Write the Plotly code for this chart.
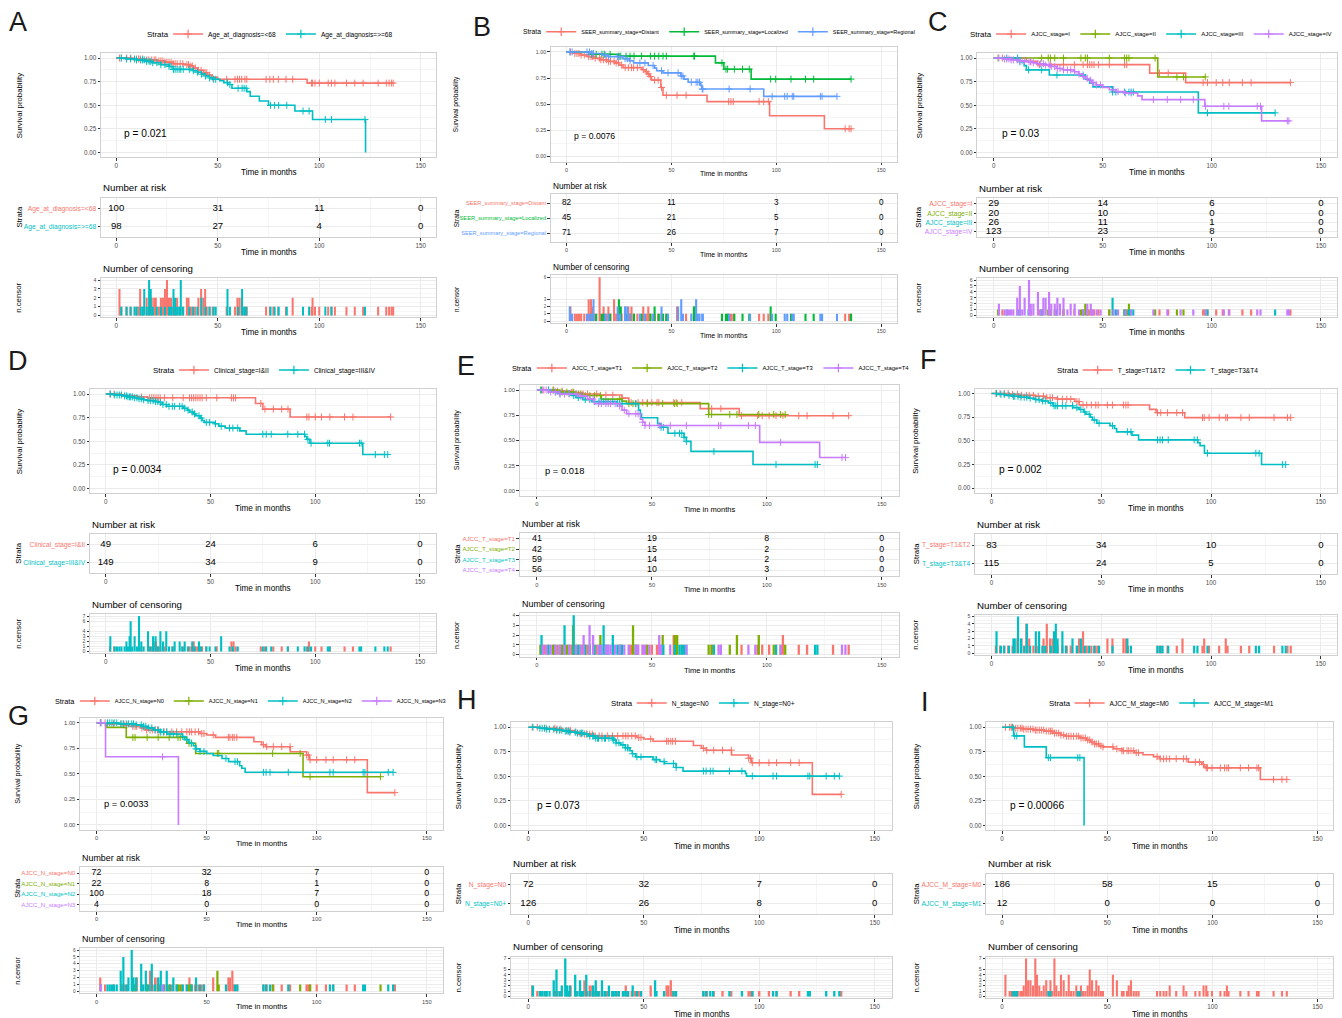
import plotly.graph_objects as go
from collections import Counter

FIG_W, FIG_H = 1342, 1018
FONT = "Liberation Sans, Arial, sans-serif"
BORDER = "#D0D0D0"
GRID = "#EBEBEB"
GRID_MINOR = "#F5F5F5"

RISK_TIMES = [0, 50, 100, 150]
X_TICKS = [0, 50, 100, 150]
X_MINOR = [25, 75, 125]
Y_TICKS = [0, 0.25, 0.5, 0.75, 1.0]
Y_TICKTEXT = ["0.00", "0.25", "0.50", "0.75", "1.00"]
Y_MINOR = [0.125, 0.375, 0.625, 0.875]

C2 = ["#F8766D", "#00BFC4"]
C3 = ["#F8766D", "#00BA38", "#619CFF"]
C4 = ["#F8766D", "#7CAE00", "#00BFC4", "#C77CFF"]

# ---------------- Panel A ----------------
A_labels = ["Age_at_diagnosis=<68", "Age_at_diagnosis=>=68"]
A_pval = "p = 0.021"
A1_time = [8, 15, 20, 24, 28, 33, 36, 38, 40, 43, 45, 47, 50, 94]
A1_surv = [0.99, 0.98, 0.97, 0.955, 0.94, 0.93, 0.915, 0.895, 0.87, 0.845, 0.82, 0.795, 0.775, 0.735]
A1_cens = [1.6, 1.6, 1.6, 2.5, 5.2, 7.2, 10, 11, 11.8, 11.8, 11.8, 13, 15, 15, 16, 17.5, 17.5, 18.7, 18.7,
           19.5, 19.5, 21, 22, 22, 23, 23, 24, 24, 24, 25, 25, 25, 25, 26, 26, 27, 27, 28, 29, 30, 30, 31.5,
           32.8, 34.8, 34.8, 35.6, 35.6, 36.7, 37.5, 38.9, 40.5, 40.5, 41.8, 41.8, 41.8, 43, 43, 43.8, 43.8,
           43.8, 44.6, 45.9, 47.5, 54.4, 58.5, 59.7, 59.7, 60.7, 60.7, 61.8, 61.8, 63.4, 64.3, 73.8, 75.7,
           77.4, 79.8, 83.6, 86.9, 86.9, 96.2, 96.7, 96.7, 97.9, 100, 104.4, 106, 107.7, 113.4, 117.5, 121.6,
           129, 133, 134.4, 135.6, 136.4]
A1_risk = [100, 31, 11, 0]
A2_time = [5, 10, 14, 18, 22, 26, 28, 38, 40, 42, 44, 46, 48, 51, 53, 55, 57, 64.3, 66, 70.5, 75, 88, 96.7, 122.8]
A2_surv = [0.99, 0.98, 0.965, 0.95, 0.93, 0.91, 0.88, 0.865, 0.85, 0.83, 0.81, 0.79, 0.775, 0.76, 0.74, 0.72,
           0.68, 0.645, 0.595, 0.545, 0.50, 0.44, 0.35, 0.0]
A2_cens = [2.5, 5, 7, 9, 10, 12, 13, 13.8, 13.8, 13.8, 15, 16.2, 16.2, 16.2, 16.2, 17, 17, 17, 18, 20, 22, 24,
           26, 27, 28.2, 28.2, 28.2, 29, 29, 30, 31, 31.8, 31.8, 31.8, 31.8, 33, 36, 38, 40, 42, 42, 44, 46, 48,
           49, 54.8, 54.8, 54.8, 56, 60, 62, 62, 62, 63, 64, 76, 78, 80, 84, 92, 95, 103, 106, 122.5]
A2_risk = [98, 27, 4, 0]

# ---------------- Panel B ----------------
B_labels = ["SEER_summary_stage=Distant", "SEER_summary_stage=Localized", "SEER_summary_stage=Regional"]
B_pval = "p = 0.0076"
B1_time = [4, 7, 10, 13, 16, 20, 23, 25, 27, 36, 37.5, 38.5, 39.5, 40.5, 45, 46, 67, 96.8, 122.9]
B1_surv = [0.985, 0.97, 0.955, 0.94, 0.925, 0.91, 0.895, 0.875, 0.85, 0.83, 0.81, 0.79, 0.765, 0.73, 0.66,
           0.585, 0.525, 0.39, 0.265]
B1_cens = [1.9, 1.9, 4, 5, 6, 7, 8.5, 10.6, 10.6, 10.6, 11.7, 11.7, 11.7, 12.5, 12.5, 13.7, 15.8, 15.8, 15.8,
           15.8, 15.8, 15.8, 16.4, 17.7, 17.7, 19, 20, 20, 21, 22.7, 22.7, 22.7, 23.7, 24.8, 26.3, 28, 28, 29.5,
           29.5, 31, 31, 32, 33.8, 36.6, 36.6, 38.2, 39, 39, 40, 42, 43.7, 45.3, 47.6, 52.7, 52.7, 57, 77.3,
           78.4, 79.5, 91.8, 94, 96.2, 132.8, 134.7, 135.6]
B1_risk = [82, 11, 3, 0]
B2_time = [11, 25, 71, 75, 88]
B2_surv = [0.978, 0.96, 0.895, 0.835, 0.74]
B2_cens = [12, 14.2, 16.9, 18, 20.8, 25, 25, 25, 25.9, 25.9, 28.4, 30.3, 32.2, 35.8, 40, 42, 42, 44, 46, 47.6,
           60.7, 60.7, 61, 61, 74.1, 76, 76.8, 80, 83.9, 87.1, 97.3, 97.3, 99.7, 107, 113.9, 117.8, 135.6]
B2_risk = [45, 21, 5, 0]
B3_time = [12, 17, 20, 27, 30, 32, 39, 42, 43, 46, 54.5, 56, 58, 64, 64.5, 94]
B3_surv = [0.985, 0.97, 0.955, 0.935, 0.915, 0.895, 0.87, 0.845, 0.82, 0.80, 0.77, 0.74, 0.71, 0.68, 0.645, 0.575]
B3_cens = [1.6, 1.6, 2.7, 9.8, 11, 12.1, 12.9, 12.9, 12.9, 18.5, 20, 24.4, 24.4, 25.5, 27.9, 27.9, 29, 29,
           30.3, 35, 37.4, 41.3, 45.3, 45.3, 48.4, 53.2, 53.2, 54.7, 54.7, 54.7, 55.5, 59.5, 61.8, 61.8, 61.8,
           62.6, 63.4, 64.7, 65, 77.5, 87.5, 98, 104, 105.2, 107.6, 108.3, 121, 121.8, 128.9]
B3_risk = [71, 26, 7, 0]

# ---------------- Panel C ----------------
C_labels = ["AJCC_stage=I", "AJCC_stage=II", "AJCC_stage=III", "AJCC_stage=IV"]
C_pval = "p = 0.03"
C1_time = [15, 20, 71.5, 88]
C1_surv = [0.965, 0.93, 0.84, 0.74]
C1_cens = [4, 17, 21, 26, 32, 37, 41, 43, 44, 45, 46, 48, 53, 60, 61, 76, 80, 96, 98, 102, 105, 108, 114, 118, 136]
C1_risk = [29, 14, 6, 0]
C2_time = [75.2]
C2_surv = [0.80]
C2_cens = [2, 22, 25, 26, 28, 32, 40, 42, 42, 43, 53, 60, 61, 62, 62, 74, 84, 87, 97]
C2_risk = [20, 10, 0, 0]
C3_time = [12, 14, 15, 25.5, 42, 44, 45.5, 54.4, 93.8]
C3_surv = [0.96, 0.92, 0.875, 0.82, 0.775, 0.735, 0.695, 0.64, 0.42]
C3_cens = [6, 11, 12, 16, 22, 29, 41, 54.5, 54.5, 54.5, 56, 60, 62, 63, 64, 98, 129]
C3_risk = [26, 11, 1, 0]
C4_time = [4, 8, 12, 15, 18, 20, 23, 26, 29, 32, 37, 39, 41, 42, 43, 45, 47, 50, 53, 56, 60, 66, 68, 96.8, 122.8]
C4_surv = [0.99, 0.98, 0.97, 0.96, 0.95, 0.94, 0.925, 0.91, 0.89, 0.875, 0.855, 0.83, 0.805, 0.785, 0.765,
           0.74, 0.715, 0.69, 0.665, 0.645, 0.63, 0.60, 0.56, 0.49, 0.335]
C4_cens = [2.4, 2.4, 5, 6, 7, 8, 9, 10.8, 10.8, 10.8, 12, 12, 12, 12, 12, 13.1, 14.2, 14.2, 14.2, 16.2, 16.2,
           16.2, 16.2, 16.2, 16.2, 17, 17, 18.2, 18.2, 20.3, 20.3, 20.3, 20.3, 21.5, 22.8, 22.8, 22.8, 23.8,
           23.8, 23.8, 25.4, 25.4, 25.4, 25.4, 26.4, 26.4, 28, 28, 29.2, 29.2, 29.2, 30.4, 30.4, 32, 32, 32,
           33.8, 35.3, 35.3, 37.1, 37.1, 39.1, 41.1, 42.9, 42.9, 44.5, 44.5, 45.5, 47.2, 49, 55, 57, 60.5, 63.1,
           73.2, 79.6, 85.7, 91.5, 97.1, 105.5, 107.8, 120.8, 122.3, 134.6, 135.3]
C4_risk = [123, 23, 8, 0]

# ---------------- Panel D ----------------
D_labels = ["Clinical_stage=I&II", "Clinical_stage=III&IV"]
D_pval = "p = 0.0034"
D1_time = [7, 10, 15, 20, 71.5, 75, 88]
D1_surv = [0.99, 0.98, 0.97, 0.96, 0.90, 0.84, 0.757]
D1_cens = [2, 4, 17, 21, 22, 23, 23, 24, 24, 25, 26, 28, 32, 37, 40, 41, 42, 42, 43, 44, 45, 46, 48, 53, 60,
           60, 61, 61, 62, 74, 76, 80, 84, 87, 96, 97, 97, 100, 103, 107, 114, 118, 136]
D1_risk = [49, 24, 6, 0]
D2_time = [4, 8, 10, 13, 15, 18, 20, 23, 25, 27, 29, 37, 39, 40, 42, 43, 45, 46, 47, 52, 54, 57, 64, 67, 95,
           96, 97.5, 122.7]
D2_surv = [0.99, 0.98, 0.97, 0.96, 0.95, 0.94, 0.93, 0.92, 0.91, 0.89, 0.87, 0.85, 0.83, 0.81, 0.79, 0.77,
           0.745, 0.72, 0.70, 0.685, 0.66, 0.64, 0.61, 0.575, 0.55, 0.52, 0.48, 0.36]
D2_cens = [2.2, 2.2, 2.2, 4.3, 5.4, 6.5, 7.5, 9, 9.9, 9.9, 10.6, 11.4, 11.4, 11.4, 11.9, 11.9, 11.9, 11.9,
           11.9, 11.9, 12.7, 13.8, 13.8, 13.8, 14.9, 15.9, 15.9, 15.9, 15.9, 15.9, 15.9, 15.9, 17, 17, 18.1,
           20.2, 20.2, 20.2, 20.2, 21.3, 22.6, 22.6, 22.6, 23.8, 23.8, 23.8, 24.9, 26.1, 26.1, 26.1, 26.1,
           27.3, 27.3, 28.9, 28.9, 28.9, 28.9, 30.2, 31.8, 32.9, 32.9, 35.3, 35.3, 36.5, 37.7, 37.7, 39.3,
           41.3, 41.3, 42.4, 44.5, 44.5, 45.6, 48, 49.6, 52.4, 55.1, 55.1, 55.1, 59.1, 60.7, 63, 75, 76.6, 79,
           86.9, 91.7, 94.9, 96.5, 98, 106, 106.8, 121.1, 121.9, 128.7, 133, 134.6]
D2_risk = [149, 34, 9, 0]

# ---------------- Panel E ----------------
E_labels = ["AJCC_T_stage=T1", "AJCC_T_stage=T2", "AJCC_T_stage=T3", "AJCC_T_stage=T4"]
E_pval = "p = 0.018"
E1_time = [8, 15, 20, 27, 37, 40, 71, 88]
E1_surv = [0.99, 0.975, 0.96, 0.95, 0.92, 0.875, 0.815, 0.745]
E1_cens = [3, 5, 7.3, 9, 10.9, 15, 16, 20, 22, 26, 30, 33, 37, 41, 44, 46, 48, 50, 52.2, 53, 59.5, 59.5,
           60.6, 60.6, 63, 76, 80, 89, 96, 98, 101, 104, 107, 107, 113.9, 117.5, 128.8, 135.6]
E1_risk = [41, 19, 8, 0]
E2_time = [10, 17, 20, 28, 37, 39, 74.7]
E2_surv = [0.98, 0.96, 0.945, 0.91, 0.89, 0.865, 0.757]
E2_cens = [1.5, 7, 11, 13, 15.7, 15.7, 15.7, 17, 18, 19, 21, 23, 25, 27.6, 27.6, 36, 40, 41.8, 41.8, 41.8, 43,
           48, 54.7, 54.7, 59.9, 59.9, 61, 61, 74.7, 76, 83.9, 87, 87, 96.5, 96.5, 103, 106, 108]
E2_risk = [42, 15, 2, 0]
E3_time = [6, 10, 15, 17, 20, 24, 35, 44.2, 45, 45.5, 52.5, 54, 57, 64, 65, 67, 94]
E3_surv = [0.98, 0.965, 0.945, 0.925, 0.905, 0.885, 0.865, 0.80, 0.765, 0.725, 0.665, 0.63, 0.57, 0.53, 0.49,
           0.39, 0.26]
E3_cens = [2, 2, 5, 8, 10, 12, 12, 12, 14, 16, 16, 16, 16, 18, 21, 23, 25, 27, 28, 29, 29, 29, 30, 31, 33, 33,
           35, 36, 37, 43, 54, 55, 60, 62, 63, 64, 65, 77, 104, 121, 122]
E3_risk = [59, 14, 2, 0]
E4_time = [5, 10, 18, 22, 25, 36, 37, 39, 45, 46, 47, 96.9, 123]
E4_surv = [0.98, 0.96, 0.94, 0.91, 0.865, 0.84, 0.80, 0.765, 0.71, 0.68, 0.648, 0.48, 0.33]
E4_cens = [2.5, 4, 6, 8, 10, 12, 14, 17, 19, 20.3, 20.3, 22.9, 22.9, 22.9, 24.4, 24.4, 26.8, 28, 30, 31, 32,
           34, 36, 38, 40, 43, 44, 46, 47, 49, 53.2, 53.2, 54, 58, 65, 79, 80, 92, 95, 106, 132.7, 134.2]
E4_risk = [56, 10, 3, 0]

# ---------------- Panel F ----------------
F_labels = ["T_stage=T1&T2", "T_stage=T3&T4"]
F_pval = "p = 0.002"
F1_time = [8, 13, 20, 25, 30, 38, 40, 72, 75, 88]
F1_surv = [0.99, 0.98, 0.97, 0.955, 0.94, 0.915, 0.878, 0.832, 0.797, 0.745]
F1_cens = [2, 3.9, 5.8, 7.6, 9.6, 11.8, 11.8, 13.7, 13.7, 15.9, 15.9, 15.9, 15.9, 17.2, 17.2, 19.1, 21.3,
           23.7, 23.7, 25.2, 25.2, 25.2, 25.2, 26.7, 26.7, 27.8, 27.8, 30.1, 32.3, 34.3, 36.1, 38.9, 39.9, 39.9,
           41.7, 41.7, 41.7, 43.4, 45.5, 47.5, 48.6, 52.8, 52.8, 55.1, 55.1, 60.1, 60.1, 61.2, 61.2, 62.2, 75.6,
           77.1, 80.2, 84.4, 87, 87, 96.1, 96.9, 96.9, 99.1, 103.7, 106.7, 106.7, 107.5, 113.6, 117.4, 128.7,
           134.8, 136.3]
F1_risk = [83, 34, 10, 0]
F2_time = [3, 6, 10, 13, 17, 20, 23, 26, 28, 37, 40, 42, 43, 45, 46, 48, 54, 56, 57, 64, 67, 94, 95, 97, 123]
F2_surv = [0.99, 0.98, 0.97, 0.96, 0.95, 0.935, 0.92, 0.90, 0.87, 0.85, 0.83, 0.805, 0.78, 0.75, 0.72, 0.685,
           0.66, 0.63, 0.595, 0.56, 0.51, 0.48, 0.45, 0.37, 0.25]
F2_cens = [2.3, 2.3, 2.3, 4.3, 5.8, 8, 10, 10, 10.6, 10.6, 12.1, 12.1, 12.1, 12.1, 12.1, 13.4, 13.4, 14.9,
           16.1, 16.1, 16.1, 16.1, 17.6, 20.2, 20.2, 20.2, 21.7, 21.7, 21.7, 23.2, 24.5, 27, 28.5, 28.5, 28.5,
           29.3, 29.3, 29.3, 29.3, 30.1, 30.1, 32.3, 32.3, 32.3, 33.9, 36.9, 36.9, 38.9, 40.7, 40.7, 42.5, 44.5,
           46.8, 49, 55.1, 61.9, 61.9, 63.5, 75.6, 76.8, 77.9, 80.5, 92.3, 93.8, 98.4, 120.4, 121.9, 132.5, 134]
F2_risk = [115, 24, 5, 0]

# ---------------- Panel G ----------------
G_labels = ["AJCC_N_stage=N0", "AJCC_N_stage=N1", "AJCC_N_stage=N2", "AJCC_N_stage=N3"]
G_pval = "p = 0.0033"
G1_time = [5, 12, 15, 20, 22, 28, 47, 50, 54, 71.5, 75, 77, 88, 95.4, 96.6, 123]
G1_surv = [0.99, 0.98, 0.965, 0.95, 0.93, 0.912, 0.895, 0.88, 0.857, 0.814, 0.785, 0.766, 0.717, 0.684,
           0.638, 0.316]
G1_cens = [1.7, 1.7, 3.9, 7.7, 11.5, 12.5, 13.8, 16.5, 16.5, 17.5, 18.3, 18.3, 20.6, 22.8, 24.3, 24.3, 24.3,
           25.5, 26.6, 26.6, 27.7, 27.7, 28.9, 30.7, 31.9, 34.2, 36.4, 38.7, 41, 42.2, 42.2, 43.2, 44.8, 46.3,
           47.8, 48.8, 53, 53, 59.9, 59.9, 60.6, 60.6, 61.7, 61.7, 61.7, 62.5, 63.7, 75.8, 77.3, 80.3, 84.1,
           87.9, 95.4, 96.2, 97, 100, 104.2, 107.5, 113.6, 117.3, 135.5]
G1_risk = [72, 32, 7, 0]
G2_time = [4.7, 13.5, 41, 45, 93.8]
G2_surv = [0.955, 0.857, 0.80, 0.70, 0.472]
G2_cens = [16.5, 17.5, 23, 28, 33, 37, 38, 42, 43, 54.9, 54.9, 54.9, 55.5, 80, 92.5, 97, 129]
G2_risk = [22, 8, 1, 0]
G3_time = [10, 18, 21, 23, 26, 29, 32, 39, 40, 42, 44, 45, 47, 50, 53, 57, 60, 65, 66, 67.5]
G3_surv = [0.99, 0.98, 0.965, 0.95, 0.93, 0.91, 0.89, 0.865, 0.835, 0.80, 0.775, 0.745, 0.72, 0.70, 0.68,
           0.65, 0.62, 0.58, 0.555, 0.515]
G3_cens = [2, 5, 6, 7, 8, 9.2, 11, 11, 11, 12.2, 12.2, 12.2, 12.2, 12.2, 13.5, 14.5, 14.5, 16, 16, 16, 16, 16,
           16, 16.8, 16.8, 18, 18, 20.3, 20.3, 20.3, 20.3, 21.3, 22.4, 22.4, 22.4, 23.6, 25.1, 25.1, 25.1, 25.1,
           26.6, 28.1, 28.1, 29.2, 29.2, 29.2, 30.4, 31.9, 31.9, 31.9, 33.4, 34.9, 34.9, 36.4, 39.2, 41, 43.2,
           45.2, 45.2, 47, 48.8, 58.8, 62.9, 64, 75.8, 77, 78.8, 87.1, 106, 107.5, 121.1, 121.9, 132.5, 134.7]
G3_risk = [100, 18, 7, 0]
G4_time = [4.1, 37.2]
G4_surv = [0.667, 0.0]
G4_cens = [2, 30]
G4_risk = [4, 0, 0, 0]

# ---------------- Panel H ----------------
H_labels = ["N_stage=N0", "N_stage=N0+"]
H_pval = "p = 0.073"
H1_time = G1_time
H1_surv = G1_surv
H1_cens = G1_cens
H1_risk = [72, 32, 7, 0]
H2_time = [5, 8, 12, 15, 18, 21, 24, 26, 29, 37, 38, 40, 42, 44, 45, 46.5, 54, 57, 59, 64, 67, 94, 94.5]
H2_surv = [0.99, 0.98, 0.97, 0.96, 0.95, 0.94, 0.93, 0.91, 0.888, 0.87, 0.84, 0.82, 0.79, 0.76, 0.73, 0.698,
           0.67, 0.65, 0.63, 0.59, 0.553, 0.53, 0.502]
H2_cens = [2, 2, 5, 6, 7, 8, 9.2, 11, 11, 11, 12.2, 12.2, 12.2, 12.2, 12.2, 13.5, 14.5, 14.5, 16, 16, 16, 16,
           16, 16, 16, 16.8, 16.8, 17.5, 18, 18, 20.3, 20.3, 20.3, 20.3, 21.3, 22.4, 22.4, 22.4, 23, 23.6, 25.1,
           25.1, 25.1, 25.1, 26.6, 28, 28.1, 28.1, 29.2, 29.2, 29.2, 30, 30.4, 31.9, 31.9, 31.9, 33, 33.4, 34.9,
           34.9, 36.4, 37, 38, 39.2, 41, 42, 43, 43.2, 45.2, 45.2, 47, 48.8, 54.9, 54.9, 54.9, 55.5, 58.8, 62.9,
           64, 75.8, 77, 78.8, 80, 87.1, 92.5, 97, 106, 107.5, 121.1, 121.9, 129, 132.5, 134.7]
H2_risk = [126, 26, 8, 0]

# ---------------- Panel I ----------------
I_labels = ["AJCC_M_stage=M0", "AJCC_M_stage=M1"]
I_pval = "p = 0.00066"
I1_time = [5, 10, 15, 20, 24, 28, 30, 37, 40, 42, 44, 46, 48, 53, 57, 63, 67, 72, 75, 88.5, 95, 96, 97, 122.8]
I1_surv = [0.99, 0.98, 0.97, 0.96, 0.94, 0.92, 0.908, 0.89, 0.87, 0.85, 0.83, 0.81, 0.80, 0.78, 0.76, 0.74,
           0.72, 0.70, 0.678, 0.644, 0.62, 0.60, 0.586, 0.468]
I1_cens = [1.6, 1.6, 1.6, 1.6, 3.6, 4.4, 5.5, 6.5, 7.5, 8.7, 9.5, 10.3, 10.3, 11.4, 11.4, 11.4, 11.4, 11.4,
           11.4, 11.4, 12.4, 12.4, 12.4, 13.5, 13.5, 13.5, 14.7, 14.7, 15.8, 15.8, 15.8, 15.8, 15.8, 15.8, 15.8,
           16.6, 16.6, 16.6, 16.6, 17.7, 17.7, 18.7, 19.8, 19.8, 21, 21, 21, 22.2, 23, 23, 23, 23.8, 24.9, 24.9,
           24.9, 24.9, 24.9, 24.9, 24.9, 25.8, 25.8, 26.9, 28, 28, 28, 28, 29.3, 29.3, 29.3, 30.6, 31.7, 31.7,
           31.7, 31.7, 32.8, 34, 35.3, 35.3, 36.4, 37.5, 37.5, 38.5, 39.6, 40.7, 40.7, 41.7, 41.7, 41.7, 41.7,
           41.7, 42.8, 42.8, 42.8, 44, 44.8, 44.8, 44.8, 45.9, 45.9, 47, 48, 52.7, 52.7, 52.7, 52.7, 54.6, 54.6,
           54.6, 57, 57.8, 59.4, 60.2, 60.2, 61.3, 61.3, 61.3, 62.6, 63.8, 64.9, 73.7, 75.2, 76.8, 78.1, 79.7,
           79.7, 82.8, 86.3, 86.3, 87.6, 91.9, 93.9, 95.8, 95.8, 97.1, 97.1, 97.7, 99.8, 103.8, 105.8, 106.9,
           106.9, 107.7, 113.3, 117.2, 121.2, 122, 129.1, 133.1, 135.4]
I1_risk = [186, 58, 15, 0]
I2_time = [5.5, 10.6, 21, 39]
I2_surv = [0.912, 0.80, 0.69, 0.0]
I2_cens = [5, 6, 7, 22, 23, 36, 37]
I2_risk = [12, 0, 0, 0]

# ---------------- layout geometry (pixels) ----------------
GEOM = {
    "A": dict(l=101, r=436, km=(53.3, 157.3), rk=(197.7, 237.3), cn=(278.3, 317.3), yt=19, leg=34, let=(18, 22), sc=1.0, toff=15, hoff=9.7, lfs=6.6, ldx=0),
    "B": dict(l=550.7, r=897, km=(46.7, 161.7), rk=(194.3, 242.3), cn=(275, 323.3), yt=456, leg=31.7, let=(482, 27), sc=0.85, toff=12, hoff=7.6, lfs=5.5, ldx=-6),
    "C": dict(l=977.3, r=1337.3, km=(53.3, 157.3), rk=(198.3, 237.3), cn=(278.3, 317.3), yt=919, leg=34, let=(938, 22), sc=1.0, toff=15, hoff=9.7, lfs=6.0, ldx=-8),
    "D": dict(l=90, r=435.7, km=(389.3, 493.3), rk=(534, 573.3), cn=(614.3, 653.3), yt=19, leg=370, let=(18, 361), sc=1.0, toff=15, hoff=9.7, lfs=6.6, ldx=0),
    "E": dict(l=519.7, r=899, km=(385, 495.7), rk=(532.7, 576.3), cn=(613.3, 656.7), yt=457, leg=368, let=(466, 366), sc=0.92, toff=13.3, hoff=9, lfs=5.9, ldx=0),
    "F": dict(l=975, r=1337.3, km=(388.7, 493), rk=(534.3, 574), cn=(614.7, 655), yt=916, leg=370, let=(928, 360), sc=1.0, toff=15, hoff=9.7, lfs=6.6, ldx=0),
    "G": dict(l=80, r=443.3, km=(717.7, 830), rk=(866.7, 911), cn=(948, 993.3), yt=18, leg=701, let=(18, 716), sc=0.92, toff=13, hoff=8.7, lfs=5.6, ldx=-12),
    "H": dict(l=511, r=892, km=(722.3, 830.3), rk=(874, 914.3), cn=(956.7, 998.3), yt=458, leg=703, let=(467, 700), sc=1.0, toff=15.7, hoff=10.7, lfs=6.6, ldx=0),
    "I": dict(l=986.3, r=1333.3, km=(722.3, 830.3), rk=(874, 914.3), cn=(956.7, 998.3), yt=916, leg=703, let=(925, 702), sc=1.0, toff=15.7, hoff=10.7, lfs=6.6, ldx=0),
}

PANELS = [
    ("A", A_labels, C2, A_pval, [(A1_time, A1_surv, A1_cens, A1_risk), (A2_time, A2_surv, A2_cens, A2_risk)]),
    ("B", B_labels, C3, B_pval, [(B1_time, B1_surv, B1_cens, B1_risk), (B2_time, B2_surv, B2_cens, B2_risk),
                                 (B3_time, B3_surv, B3_cens, B3_risk)]),
    ("C", C_labels, C4, C_pval, [(C1_time, C1_surv, C1_cens, C1_risk), (C2_time, C2_surv, C2_cens, C2_risk),
                                 (C3_time, C3_surv, C3_cens, C3_risk), (C4_time, C4_surv, C4_cens, C4_risk)]),
    ("D", D_labels, C2, D_pval, [(D1_time, D1_surv, D1_cens, D1_risk), (D2_time, D2_surv, D2_cens, D2_risk)]),
    ("E", E_labels, C4, E_pval, [(E1_time, E1_surv, E1_cens, E1_risk), (E2_time, E2_surv, E2_cens, E2_risk),
                                 (E3_time, E3_surv, E3_cens, E3_risk), (E4_time, E4_surv, E4_cens, E4_risk)]),
    ("F", F_labels, C2, F_pval, [(F1_time, F1_surv, F1_cens, F1_risk), (F2_time, F2_surv, F2_cens, F2_risk)]),
    ("G", G_labels, C4, G_pval, [(G1_time, G1_surv, G1_cens, G1_risk), (G2_time, G2_surv, G2_cens, G2_risk),
                                 (G3_time, G3_surv, G3_cens, G3_risk), (G4_time, G4_surv, G4_cens, G4_risk)]),
    ("H", H_labels, C2, H_pval, [(H1_time, H1_surv, H1_cens, H1_risk), (H2_time, H2_surv, H2_cens, H2_risk)]),
    ("I", I_labels, C2, I_pval, [(I1_time, I1_surv, I1_cens, I1_risk), (I2_time, I2_surv, I2_cens, I2_risk)]),
]

# approximate Arial advance widths (1/1000 em) used to lay out legend groups
CHAR_W = {c: 556 for c in "0123456789abdeghnopqu_"}
CHAR_W.update({"A": 667, "B": 667, "C": 722, "D": 722, "E": 667, "F": 611, "G": 778, "H": 722, "I": 278,
               "J": 500, "K": 667, "L": 556, "M": 833, "N": 722, "O": 778, "P": 667, "R": 722, "S": 667,
               "T": 611, "U": 722, "V": 667, "c": 500, "f": 278, "i": 222, "j": 222, "k": 500, "l": 222,
               "m": 833, "r": 333, "s": 500, "t": 278, "v": 500, "w": 722, "x": 500, "y": 500, "z": 500,
               "=": 584, "<": 584, ">": 584, "&": 667, "+": 584, " ": 278, ".": 278})


def text_w(s, size):
    return sum(CHAR_W.get(ch, 556) for ch in s) / 1000.0 * size


def px(x):
    return x / FIG_W


def py(y):
    return 1 - y / FIG_H


def surv_at(times, survs, t):
    s = 1.0
    for tt, ss in zip(times, survs):
        if tt <= t:
            s = ss
        else:
            break
    return s


def make_axis(domain, anchor, rng, tickvals, ticktext, minor_vals, tsize):
    ax = dict(domain=domain, anchor=anchor, range=rng, tickmode="array", tickvals=tickvals,
              showline=True, mirror=True, linecolor=BORDER, linewidth=1,
              showgrid=True, gridcolor=GRID, gridwidth=0.9, zeroline=False,
              ticks="outside", ticklen=2.5, tickwidth=0.8, tickcolor="#333333",
              tickfont=dict(family=FONT, size=tsize, color="#4D4D4D"),
              automargin=False, fixedrange=True)
    if ticktext is not None:
        ax["ticktext"] = ticktext
    if minor_vals:
        ax["minor"] = dict(tickmode="array", tickvals=minor_vals, showgrid=True,
                           gridcolor=GRID_MINOR, gridwidth=0.6, ticks="")
    return ax


fig = go.Figure()
layout = {}
annotations = []
ai = 0


def aref(i, k):
    return k if i == 1 else f"{k}{i}"


def akey(i, k):
    return f"{k}axis" if i == 1 else f"{k}axis{i}"


for pi, (letter, labels, colors, pval, strata) in enumerate(PANELS):
    g = GEOM[letter]
    sc = g["sc"]
    n = len(strata)
    l, r = g["l"], g["r"]
    dx = [px(l), px(r)]
    km, rk, cn = ai + 1, ai + 2, ai + 3
    ai += 3
    leg = "legend" if pi == 0 else f"legend{pi + 1}"
    tsize = 6.3 * sc

    layout[akey(km, "x")] = make_axis(dx, aref(km, "y"), [-7.5, 157.5], X_TICKS, None, X_MINOR, tsize)
    layout[akey(km, "y")] = make_axis([py(g["km"][1]), py(g["km"][0])], aref(km, "x"), [-0.05, 1.05],
                                      Y_TICKS, Y_TICKTEXT, Y_MINOR, tsize)
    rows = list(range(n))
    rtext = [f'<span style="color:{colors[n - 1 - k]}">{labels[n - 1 - k]}</span>' for k in rows]
    layout[akey(rk, "x")] = make_axis(dx, aref(rk, "y"), [-7.5, 157.5], X_TICKS, None, X_MINOR, tsize)
    layout[akey(rk, "y")] = make_axis([py(g["rk"][1]), py(g["rk"][0])], aref(rk, "x"), [-0.6, n - 1 + 0.6],
                                      rows, rtext, None, 6.7 * sc)

    all_counts = set()
    cens_data = []
    for (tt, ss, cens, risk) in strata:
        cnt = Counter(cens)
        ct = sorted(cnt)
        cv = [cnt[t] for t in ct]
        all_counts.update(cv)
        cens_data.append((ct, cv))
    mx = max(all_counts)
    ctick = sorted(set([0]) | all_counts)
    cminor = [(a + b) / 2 for a, b in zip(ctick[:-1], ctick[1:])]
    layout[akey(cn, "x")] = make_axis(dx, aref(cn, "y"), [-7.5, 157.5], X_TICKS, None, X_MINOR, tsize)
    layout[akey(cn, "y")] = make_axis([py(g["cn"][1]), py(g["cn"][0])], aref(cn, "x"),
                                      [-0.05 * mx, 1.05 * mx], ctick, None, cminor, 5.2 * sc)

    for si, (tt, ss, cens, risk) in enumerate(strata):
        assert len(tt) == len(ss), (letter, si)
        col = colors[si]
        xs = [0] + list(tt)
        ys = [1.0] + list(ss)
        last_c = max(cens) if cens else 0
        if ss[-1] > 0 and last_c > tt[-1]:
            xs.append(last_c)
            ys.append(ss[-1])
        fig.add_trace(go.Scatter(x=xs, y=ys, mode="lines", line=dict(color=col, width=1.6, shape="hv"),
                                 xaxis=aref(km, "x"), yaxis=aref(km, "y"), showlegend=False, hoverinfo="skip"))
        ct, cv = cens_data[si]
        cy = [surv_at(tt, ss, t) for t in ct]
        fig.add_trace(go.Scatter(x=ct, y=cy, mode="markers",
                                 marker=dict(symbol="cross-thin", size=5, color=col, line=dict(color=col, width=1)),
                                 xaxis=aref(km, "x"), yaxis=aref(km, "y"), showlegend=False, hoverinfo="skip"))
        fig.add_trace(go.Scatter(x=[None], y=[None], mode="lines+markers", name=labels[si],
                                 line=dict(color=col, width=1.6),
                                 marker=dict(symbol="cross-thin", size=6, color=col, line=dict(color=col, width=1.2)),
                                 xaxis=aref(km, "x"), yaxis=aref(km, "y"), legend=leg, showlegend=True))
        fig.add_trace(go.Scatter(x=RISK_TIMES, y=[n - 1 - si] * len(RISK_TIMES), mode="text",
                                 text=[str(v) for v in risk], textposition="middle center",
                                 textfont=dict(family=FONT, size=9.6 * sc, color="#000000"),
                                 xaxis=aref(rk, "x"), yaxis=aref(rk, "y"), showlegend=False, hoverinfo="skip",
                                 cliponaxis=False))
        fig.add_trace(go.Bar(x=ct, y=cv, width=1.0, marker=dict(color=col, line=dict(width=0)),
                             xaxis=aref(cn, "x"), yaxis=aref(cn, "y"), showlegend=False, hoverinfo="skip"))

    # legend group: "Strata" label + horizontal legend, centred over the panel
    lfs = g["lfs"]
    sfs = 7.9 * sc
    sw = text_w("Strata", sfs)
    lw = sum(45 + text_w(lab, lfs) for lab in labels) - 5
    total = sw + 2 + lw
    start = (l + r) / 2 + g["ldx"] - total / 2
    annotations.append(dict(text="Strata", x=px(start), y=py(g["leg"]), xref="paper", yref="paper",
                            xanchor="left", yanchor="middle", showarrow=False,
                            font=dict(family=FONT, size=sfs, color="#000")))
    layout[leg] = dict(x=px(start + sw + 2), y=py(g["leg"]), xanchor="left", yanchor="middle",
                       orientation="h", bgcolor="rgba(0,0,0,0)", itemwidth=30, tracegroupgap=0,
                       borderwidth=0, font=dict(family=FONT, size=lfs, color="#000"), itemclick=False)

    annotations.append(dict(text=pval, x=2.7, y=0.2, xref=aref(km, "x"), yref=aref(km, "y"),
                            xanchor="left", yanchor="middle", showarrow=False,
                            font=dict(family=FONT, size=10.2 * sc, color="#000")))
    annotations.append(dict(text=letter, x=px(g["let"][0]), y=py(g["let"][1]), xref="paper", yref="paper",
                            xanchor="center", yanchor="middle", showarrow=False,
                            font=dict(family=FONT, size=27, color="#1a1a1a")))
    cxm = px((l + r) / 2)
    for key in ("km", "rk", "cn"):
        t, b = g[key]
        annotations.append(dict(text="Time in months", x=cxm, y=py(b + g["toff"]), xref="paper", yref="paper",
                                xanchor="center", yanchor="middle", showarrow=False,
                                font=dict(family=FONT, size=8.2 * sc, color="#000")))
    ytitles = {"km": "Survival probability", "rk": "Strata", "cn": "n.censor"}
    for key, txt in ytitles.items():
        t, b = g[key]
        annotations.append(dict(text=txt, x=px(g["yt"]), y=py((t + b) / 2), xref="paper", yref="paper",
                                xanchor="center", yanchor="middle", textangle=-90, showarrow=False,
                                font=dict(family=FONT, size=7.8 * sc, color="#000")))
    for key, txt in (("rk", "Number at risk"), ("cn", "Number of censoring")):
        t, b = g[key]
        annotations.append(dict(text=txt, x=px(l), y=py(t - g["hoff"]), xref="paper", yref="paper",
                                xanchor="left", yanchor="middle", showarrow=False,
                                font=dict(family=FONT, size=9.7 * sc, color="#000")))

fig.update_layout(**layout)
fig.update_layout(width=FIG_W, height=FIG_H, autosize=False, margin=dict(l=0, r=0, t=0, b=0, pad=0),
                  paper_bgcolor="white", plot_bgcolor="white", barmode="overlay",
                  font=dict(family=FONT), annotations=annotations, hovermode=False)
fig.write_html("out.html")
